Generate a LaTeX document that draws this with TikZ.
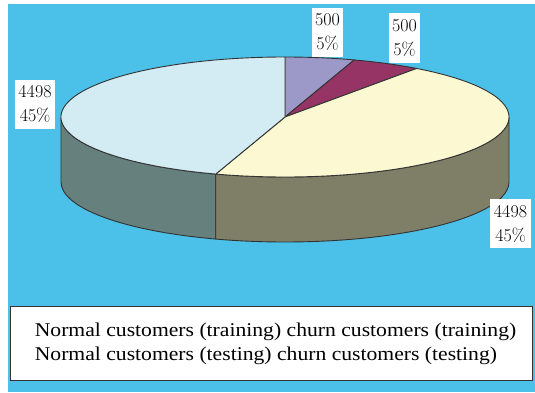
\documentclass[tikz,border=0pt]{standalone}
\usepackage{fontspec}
\usetikzlibrary{positioning, calc}
\newfontfamily\legendfont[FakeStretch=1.11]{Liberation Serif}
\definecolor{bgblue}{HTML}{4BC1EA}
\definecolor{trainchurn}{HTML}{9C98C8}
\definecolor{testchurn}{HTML}{963465}
\definecolor{testnormal}{HTML}{FCF8D2}
\definecolor{testnormalside}{HTML}{7F7F68}
\definecolor{trainnormal}{HTML}{D3EBF3}
\definecolor{trainnormalside}{HTML}{66807E}

\begin{document}
\begin{tikzpicture}[
    x=1pt, y=1pt,
    slice/.style={draw=black!80, line width=0.9pt, line join=round},
    valuelabel/.style={rectangle, fill=white, inner xsep=3.5pt, inner ysep=0pt, minimum height=49pt, align=center, font=\fontsize{18}{24}\selectfont},
    legendbox/.style={rectangle, draw=black!80, fill=white, line width=0.8pt, minimum width=522pt, minimum height=74pt},
    legendtext/.style={inner sep=0pt, align=left, font=\legendfont\fontsize{19.5}{24}\selectfont}
]

% Background
\useasboundingbox (0,0) rectangle (535,392);
\fill[white] (0,0) rectangle (535,392);
\fill[bgblue] (8,0) rectangle (535,388);

% Pie centre (top face) and radii
\coordinate (c) at (285,275);

% Side walls (front half)
\draw[slice, fill=trainnormalside] ($(c)+(180:224pt and 60pt)$)
    arc[start angle=180, end angle=252, x radius=224pt, y radius=60pt] -- ++(0,-65pt)
    arc[start angle=252, end angle=180, x radius=224pt, y radius=60pt] -- cycle;
\draw[slice, fill=testnormalside] ($(c)+(252:224pt and 60pt)$)
    arc[start angle=252, end angle=360, x radius=224pt, y radius=60pt] -- ++(0,-65pt)
    arc[start angle=360, end angle=252, x radius=224pt, y radius=60pt] -- cycle;

% Top face: slices
\draw[slice, fill=trainchurn] (c) -- ($(c)+(90:224pt and 60pt)$)
    arc[start angle=90, end angle=72, x radius=224pt, y radius=60pt] -- cycle;
\draw[slice, fill=testchurn] (c) -- ($(c)+(72:224pt and 60pt)$)
    arc[start angle=72, end angle=54, x radius=224pt, y radius=60pt] -- cycle;
\draw[slice, fill=testnormal] (c) -- ($(c)+(54:224pt and 60pt)$)
    arc[start angle=54, end angle=-108, x radius=224pt, y radius=60pt] -- cycle;
\draw[slice, fill=trainnormal] (c) -- ($(c)+(-108:224pt and 60pt)$)
    arc[start angle=-108, end angle=-270, x radius=224pt, y radius=60pt] -- cycle;

% Value labels
\node[valuelabel] (lab1) at (327.5,359.5) {500\\5\%};
\node[valuelabel] (lab2) at (404.5,354) {500\\5\%};
\node[valuelabel] (lab3) at (35,288) {4498\\45\%};
\node[valuelabel] (lab4) at (510.5,168.5) {4498\\45\%};

% Legend
\node[legendbox] (legend) at (271,49) {};
\node[legendtext, anchor=west] (legendtxt) at ([xshift=25pt, yshift=-1pt]legend.west)
    {Normal customers (training) churn customers (training)\\Normal customers (testing) churn customers (testing)};

\end{tikzpicture}
\end{document}
